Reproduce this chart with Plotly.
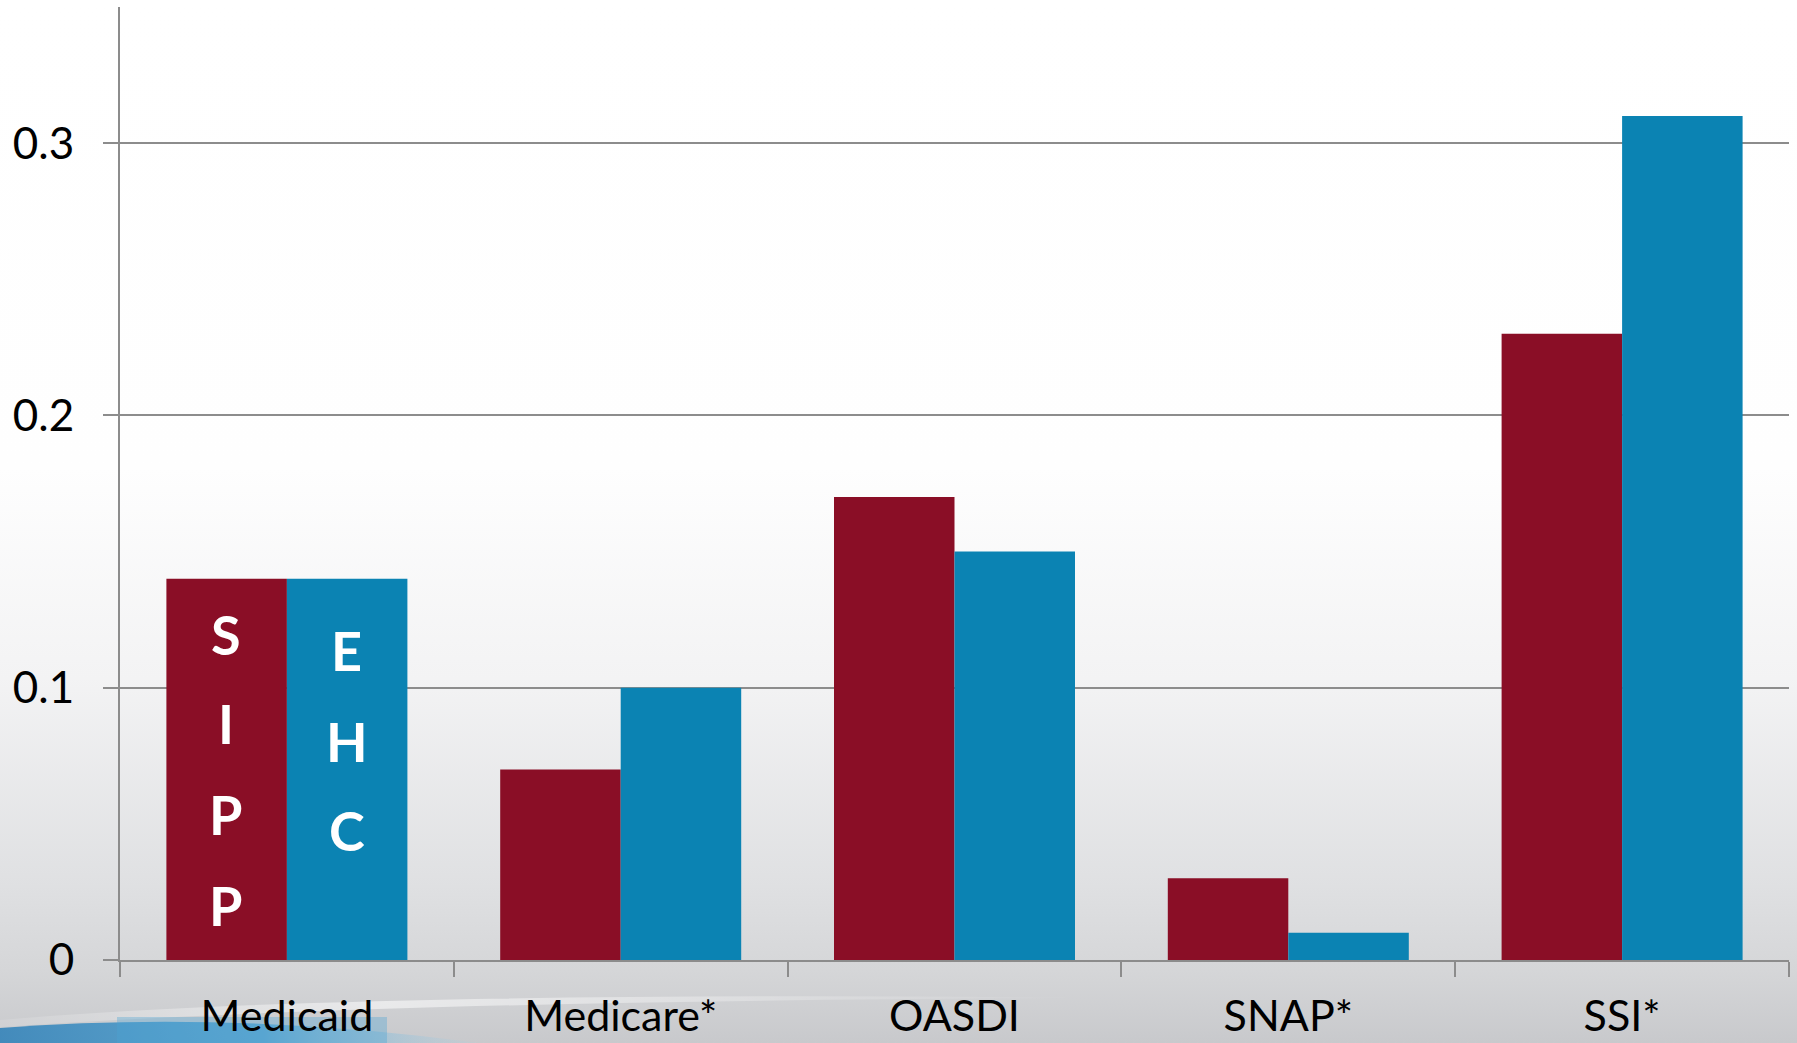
import base64
import plotly.graph_objects as go

categories = ["Medicaid", "Medicare*", "OASDI", "SNAP*", "SSI*"]
sipp_values = [0.14, 0.07, 0.17, 0.03, 0.23]
ehc_values = [0.14, 0.10, 0.15, 0.01, 0.31]
y_tickvals = [0, 0.1, 0.2, 0.3]
y_ticktext = ["0", "0.1", "0.2", "0.3"]
sipp_letters = ["S", "I", "P", "P"]
ehc_letters = ["E", "H", "C"]

RED = "#8A0E26"
BLUE = "#0B83B3"
GRID = "#8c8c8c"
W, H = 1797, 1043
ML, MR, MT, MB = 120, 8, 7, 83

svg = f'''<svg xmlns="http://www.w3.org/2000/svg" width="{W}" height="{H}" viewBox="0 0 {W} {H}" preserveAspectRatio="none">
<defs>
<linearGradient id="bg" x1="0" y1="0" x2="0" y2="1">
<stop offset="0" stop-color="#ffffff"/>
<stop offset="0.45" stop-color="#fefefe"/>
<stop offset="0.65" stop-color="#f3f3f4"/>
<stop offset="0.85" stop-color="#dfe0e2"/>
<stop offset="0.93" stop-color="#d5d6d8"/>
<stop offset="1" stop-color="#c8c9cc"/>
</linearGradient>
<linearGradient id="sw" x1="0" y1="0" x2="1" y2="0">
<stop offset="0" stop-color="#2b7fb8" stop-opacity="0.85"/>
<stop offset="0.55" stop-color="#3d9bd0" stop-opacity="0.75"/>
<stop offset="1" stop-color="#a8d4ea" stop-opacity="0.1"/>
</linearGradient>
<linearGradient id="hl" x1="0" y1="0" x2="1" y2="0">
<stop offset="0" stop-color="#ffffff" stop-opacity="0.1"/>
<stop offset="0.35" stop-color="#ffffff" stop-opacity="0.55"/>
<stop offset="1" stop-color="#ffffff" stop-opacity="0"/>
</linearGradient>
</defs>
<rect x="0" y="0" width="{W}" height="{H}" fill="url(#bg)"/>
<path d="M0,1020 Q350,990 1100,998 Q400,1000 0,1027 Z" fill="url(#hl)"/>
<path d="M0,1043 L0,1028 Q230,1010 480,1043 Z" fill="url(#sw)"/>
<rect x="117" y="1017" width="270" height="26" fill="#4aa3d4" fill-opacity="0.35"/>
</svg>'''
svg_uri = "data:image/svg+xml;base64," + base64.b64encode(svg.encode()).decode()

pw = W - ML - MR
ph = H - MT - MB

fig = go.Figure()
fig.add_trace(go.Bar(name="SIPP", x=categories, y=sipp_values,
                     marker=dict(color=RED, line=dict(width=0))))
fig.add_trace(go.Bar(name="EHC", x=categories, y=ehc_values,
                     marker=dict(color=BLUE, line=dict(width=0))))

# stacked letters inside the Medicaid bars
letter_font = dict(family="Lato", size=54, color="white", weight="bold")
sipp_y = [0.1197, 0.0867, 0.0533, 0.0202]
ehc_y = [0.1135, 0.0804, 0.0474]
for ch, yy in zip(sipp_letters, sipp_y):
    fig.add_annotation(x=categories[0], y=yy, text=f"<b>{ch}</b>", showarrow=False,
                       xshift=-61, font=letter_font)
for ch, yy in zip(ehc_letters, ehc_y):
    fig.add_annotation(x=categories[0], y=yy, text=f"<b>{ch}</b>", showarrow=False,
                       xshift=60, font=letter_font)

fig.add_layout_image(dict(source=svg_uri, xref="paper", yref="paper",
                          x=-ML / pw, y=1 + MT / ph, sizex=W / pw, sizey=H / ph,
                          xanchor="left", yanchor="top", sizing="stretch",
                          layer="below"))

fig.update_layout(
    width=W, height=H,
    margin=dict(l=ML, r=MR, t=MT, b=MB),
    barmode="group", bargap=0.278, bargroupgap=0,
    showlegend=False,
    paper_bgcolor="white",
    plot_bgcolor="rgba(0,0,0,0)",
    font=dict(family="Lato", color="black"),
)
fig.update_yaxes(range=[0, 0.35], tickvals=y_tickvals, ticktext=y_ticktext,
                 showgrid=True, gridcolor=GRID, gridwidth=2,
                 showline=True, linecolor=GRID, linewidth=2,
                 ticks="outside", ticklen=15, tickcolor=GRID, tickwidth=2,
                 zeroline=False, tickfont=dict(size=44, family="Lato"),
                 ticklabelstandoff=20, automargin=False)
fig.update_xaxes(showline=True, linecolor=GRID, linewidth=2,
                 ticks="outside", ticklen=15, tickcolor=GRID, tickwidth=2,
                 tickson="boundaries", showgrid=False,
                 tickfont=dict(size=43, family="Lato"),
                 ticklabelstandoff=17, automargin=False)

fig.write_html("out.html", config={"displayModeBar": False},
               post_script="document.body.style.margin='0';document.body.style.overflow='hidden';")
